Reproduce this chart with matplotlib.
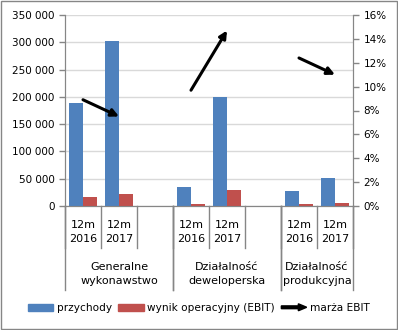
import numpy as np
import matplotlib.pyplot as plt
import matplotlib.patches as mpatches
from matplotlib.legend_handler import HandlerPatch
from matplotlib.ticker import FuncFormatter, PercentFormatter

# dane (puste sloty = odstep miedzy grupami)
categories = ["12m\n2016", "12m\n2017", "", "12m\n2016", "12m\n2017", "", "12m\n2016", "12m\n2017"]
groups = ["Generalne\nwykonawstwo", "Działalność\ndeweloperska", "Działalność\nprodukcyjna"]
group_slots = [(0, 2), (3, 5), (6, 7)]
przychody = [188000, 302000, np.nan, 34800, 200000, np.nan, 27500, 51300]
ebit = [16700, 22700, np.nan, 3400, 29400, np.nan, 3400, 5600]
marza = [8.9, 7.5, np.nan, 9.7, 14.7, np.nan, 12.4, 11.0]

BLUE = "#4F81BD"
RED = "#C0504D"
GRAY = "#868686"

plt.rcParams['font.family'] = ['DejaVu Sans']
plt.rcParams['font.size'] = 7.5

fig = plt.figure(figsize=(3.98, 3.30), dpi=100)
ax = fig.add_axes([65 / 398, 124 / 330, 288 / 398, 191 / 330])
ax2 = ax.twinx()

x = np.arange(len(categories))
w = 0.4
ax.bar(x - w, przychody, width=w, align='edge', color=BLUE, zorder=3)
ax.bar(x, ebit, width=w, align='edge', color=RED, zorder=3)

ax.set_xlim(-0.5, len(categories) - 0.5)
ax.set_ylim(0, 350000)
ax.set_yticks(np.arange(0, 350001, 50000))
ax.yaxis.set_major_formatter(FuncFormatter(lambda v, p: f"{int(v):,}".replace(",", " ")))
ax.grid(axis='y', color='#d9d9d9', lw=1, zorder=0)
ax.set_xticks([])

ax2.set_ylim(0, 16)
ax2.set_yticks(np.arange(0, 17, 2))
ax2.yaxis.set_major_formatter(PercentFormatter(decimals=0))

for a in (ax, ax2):
    a.spines['top'].set_visible(False)
    for s in ('left', 'right', 'bottom'):
        a.spines[s].set_color(GRAY)
    a.tick_params(axis='y', colors=GRAY, labelcolor='black', length=4, width=1)

# strzalki marzy EBIT
for g0, g1 in group_slots:
    i0 = g0 if not np.isnan(marza[g0]) else g0 + 1
    i1 = i0 + 1
    ax2.annotate("", xy=(x[i1], marza[i1]), xytext=(x[i0], marza[i0]),
                 arrowprops=dict(arrowstyle='-|>', lw=2.2, color='black',
                                 mutation_scale=11, shrinkA=0, shrinkB=0), zorder=5)

# wielopoziomowa os X
tr = ax.get_xaxis_transform()
for b in np.arange(-0.5, len(categories), 1.0):
    ax.plot([b, b], [0, -0.22], transform=tr, color=GRAY, lw=1, clip_on=False)
for i, c in enumerate(categories):
    ax.text(x[i], -0.135, c, transform=tr, ha='center', va='center',
            linespacing=1.5, fontsize=8)
for (g0, g1), name in zip(group_slots, groups):
    for b in (g0 - 0.5, g1 + 0.5):
        ax.plot([b, b], [0, -0.44], transform=tr, color=GRAY, lw=1, clip_on=False)
    ax.text((g0 + g1) / 2, -0.355, name, transform=tr, ha='center', va='center',
            linespacing=1.5, fontsize=8)


class HandlerArrow(HandlerPatch):
    def create_artists(self, legend, orig_handle, xdescent, ydescent, width, height, fontsize, trans):
        p = mpatches.FancyArrow(-xdescent, height / 2 - ydescent, width, 0, width=2,
                                length_includes_head=True, head_width=5, head_length=6,
                                color='black', transform=trans)
        return [p]


handles = [mpatches.Patch(color=BLUE, label="przychody"),
           mpatches.Patch(color=RED, label="wynik operacyjny (EBIT)"),
           mpatches.FancyArrow(0, 0, 1, 0, color='black', label="marża EBIT")]
fig.legend(handles=handles, loc='center', bbox_to_anchor=(0.5, 22 / 330), ncol=3,
           frameon=False, fontsize=7.6, handlelength=2.4, handleheight=0.6,
           handletextpad=0.35, columnspacing=0.6,
           handler_map={mpatches.FancyArrow: HandlerArrow()})

fig.patches.append(mpatches.Rectangle((0.002, 0.002), 0.995, 0.994, transform=fig.transFigure,
                                      fill=False, edgecolor=GRAY, lw=1))

fig.savefig("out.png", dpi=100)
